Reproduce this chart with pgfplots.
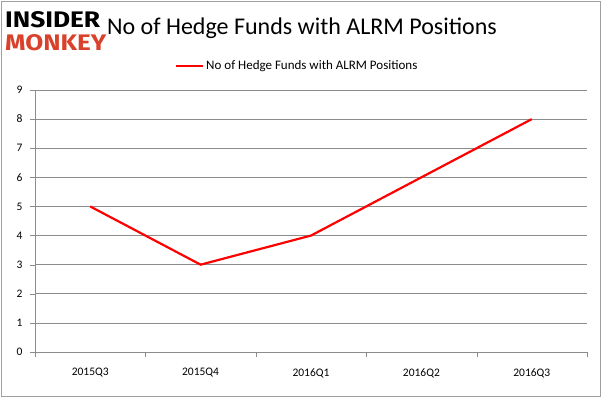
\documentclass[border=0pt]{standalone}
\usepackage{pgfplots}
\pgfplotsset{compat=1.18}
\usepackage{fontspec}
\setmainfont{Carlito}
\newfontfamily\logofont{Fira Sans}
\definecolor{gridgray}{HTML}{8C8C8C}
\definecolor{framegray}{HTML}{A0A0A0}
\definecolor{monkeyred}{HTML}{D9412B}
\begin{document}
\begin{tikzpicture}[x=1pt,y=1pt]
\path[use as bounding box] (0,0) rectangle (602,398);
\draw[framegray,line width=1pt] (1.5,1.5) rectangle (600.5,396.5);
\begin{axis}[
  at={(35pt,46pt)}, anchor=south west,
  scale only axis, width=552pt, height=262pt,
  xmin=-0.5, xmax=4.5, ymin=0, ymax=9,
  axis lines*=left,
  axis line style={gridgray},
  xtick={0,1,2,3,4},
  xticklabels={2015Q3,2015Q4,2016Q1,2016Q2,2016Q3},
  major x tick style={draw=none},
  minor xtick={-0.5,0.5,1.5,2.5,3.5,4.5},
  minor x tick style={gridgray},
  minor tick length=5pt,
  ytick={0,...,9},
  ytick style={gridgray},
  major tick length=5pt,
  tick align=outside,
  ymajorgrids, grid style={gridgray,line width=0.6pt},
  tick label style={font=\fontsize{11.5}{13}\selectfont, text=black},
  xticklabel style={yshift=-8pt},
  yticklabel style={xshift=-4pt},
  /pgf/number format/assume math mode=true,
  legend style={at={(0.475,1.06)}, anchor=south, draw=none, fill=none,
    font=\fontsize{13}{15}\selectfont, legend cell align=left, inner sep=1pt},
  legend image code/.code={\draw[#1] (0cm,0cm) -- (0.95cm,0cm);},
]
\addplot[color=red, line width=2.2pt] coordinates {(0,5) (1,3) (2,4) (3,6) (4,8)};
\addlegendentry{No of Hedge Funds with ALRM Positions}
\end{axis}
\node[anchor=base, font=\fontsize{24}{28}\selectfont] at (302,363) {No of Hedge Funds with ALRM Positions};
\node[anchor=south west, inner sep=0pt] at (5,370) {\resizebox{95pt}{16pt}{\logofont\bfseries INSIDER}};
\node[anchor=south west, inner sep=0pt] at (5,347) {\resizebox{101pt}{16pt}{\logofont\bfseries\color{monkeyred} MONKEY}};
\end{tikzpicture}
\end{document}
